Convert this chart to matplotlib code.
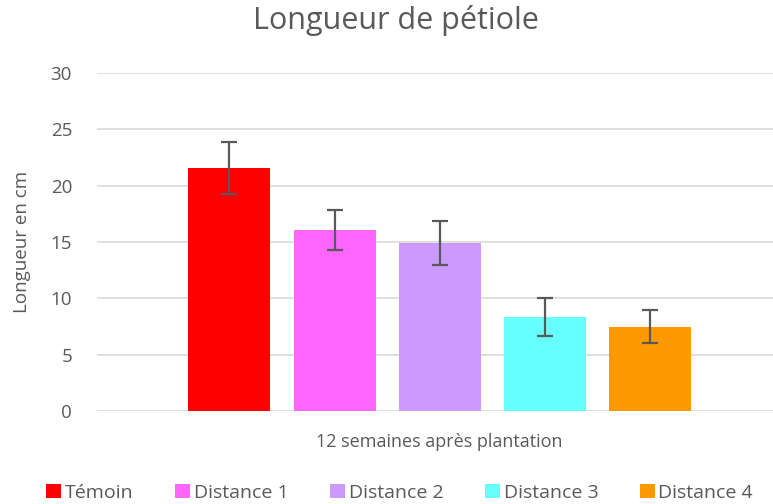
import numpy as np
import matplotlib.pyplot as plt

plt.rcParams['font.family'] = ['Open Sans', 'DejaVu Sans']

series = ['Témoin', 'Distance 1', 'Distance 2', 'Distance 3', 'Distance 4']
values = [21.55, 16.1, 14.9, 8.35, 7.5]
errors = [2.3, 1.78, 1.97, 1.68, 1.44]
colors = ['#ff0000', '#ff66ff', '#cc99ff', '#66ffff', '#ff9900']
category = '12 semaines après plantation'

txt = '#595959'

fig = plt.figure(figsize=(7.73, 5.04), dpi=100)
ax = fig.add_axes([0.1255, 0.1845, 0.8745, 0.6706])

x = np.arange(len(series))
for i in range(len(series)):
    ax.bar(x[i], values[i], width=0.78, color=colors[i], label=series[i], zorder=2)
ax.errorbar(x, values, yerr=errors, fmt='none', ecolor='#595959',
            elinewidth=1.6, capsize=6, capthick=1.6, zorder=3)

ax.set_xlim(-1.26, 5.17)
ax.set_ylim(0, 30)
ax.set_yticks(range(0, 31, 5))
ax.yaxis.grid(True, color='#d9d9d9', linewidth=1.2, zorder=0)
ax.set_axisbelow(True)
ax.set_xticks([2])
ax.set_xticklabels([category])
ax.tick_params(axis='x', length=0, pad=16, labelsize=13, labelcolor=txt)
ax.tick_params(axis='y', length=0, pad=18, labelsize=13.5, labelcolor=txt)
for s in ax.spines.values():
    s.set_visible(False)
ax.set_ylabel('Longueur en cm', fontsize=13.5, color=txt, labelpad=14)

fig.suptitle('Longueur de pétiole', fontsize=22, color=txt, x=0.512, y=0.99)

fig.legend(loc='lower center', bbox_to_anchor=(0.517, -0.03), ncol=5, frameon=False,
           fontsize=14, labelcolor=txt, handlelength=0.75, handleheight=0.75,
           handletextpad=0.2, columnspacing=2.15)

fig.savefig('out.png', dpi=100)
